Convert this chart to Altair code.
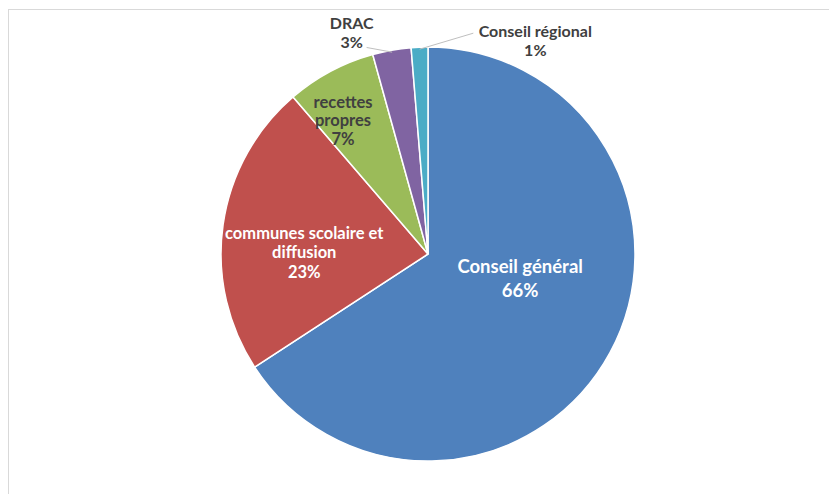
import altair as alt
import pandas as pd

categories = ["Conseil général", "communes scolaire et diffusion", "recettes propres", "DRAC", "Conseil régional"]
values = [65.8, 22.9, 7.0, 3.0, 1.3]
pct_labels = ["66%", "23%", "7%", "3%", "1%"]
name_lines = ["Conseil général", "communes scolaire et\ndiffusion", "recettes\npropres", "DRAC", "Conseil régional"]
colors = ["#4F81BD", "#C0504D", "#9BBB59", "#8064A2", "#4BACC6"]

df = pd.DataFrame({
    "cat": categories,
    "value": values,
    "idx": list(range(len(categories))),
    "label": [f"{a}\n{b}" for a, b in zip(name_lines, pct_labels)],
})

W, H = 821, 486
CX, CY, R = 420, 246, 207
DARK = "#404040"

# label layout: category -> (radius, dx, dy, color, size, lineHeight)
layout = {
    "Conseil général": (90, 13, -18, "white", 18.5, 24),
    "communes scolaire et diffusion": (125, 0, 17, "white", 16.5, 19.5),
    "recettes propres": (155, -12, 4, DARK, 16.5, 18.5),
    "DRAC": (225, -37, 1, DARK, 16, 19),
    "Conseil régional": (213, 116, 0, DARK, 16, 19),
}
# leader lines: category -> (start radius, end offset x, end offset y from label centre)
leaders = {
    "DRAC": (205, 15, 14),
    "Conseil régional": (205, -62, -8),
}

base = (
    alt.Chart(df)
    .transform_window(cum="sum(value)", sort=[alt.SortField("idx")])
    .transform_joinaggregate(total="sum(value)")
    .transform_calculate(mid="(datum.cum - datum.value / 2) / datum.total * 2 * PI")
)

arcs = alt.Chart(df).mark_arc(outerRadius=R, stroke="white", strokeWidth=1.5).encode(
    theta=alt.Theta("value:Q", stack=True),
    order=alt.Order("idx:Q"),
    color=alt.Color("cat:N", scale=alt.Scale(domain=categories, range=colors), legend=None),
    x=alt.value(CX),
    y=alt.value(CY),
)

layers = [arcs]

for cat, (sr, ox, oy) in leaders.items():
    lr, dx, dy, _, _, _ = layout[cat]
    rule = (
        base.transform_filter(alt.datum.cat == cat)
        .transform_calculate(
            x1=f"{CX} + {sr} * sin(datum.mid)",
            y1=f"{CY} - {sr} * cos(datum.mid)",
            x2=f"{CX} + {lr} * sin(datum.mid) + {dx} + {ox}",
            y2=f"{CY} - {lr} * cos(datum.mid) + {dy} + {oy}",
        )
        .mark_rule(color="#BFBFBF", strokeWidth=1)
        .encode(
            x=alt.X("x1:Q", scale=None),
            y=alt.Y("y1:Q", scale=None),
            x2="x2:Q",
            y2="y2:Q",
        )
    )
    layers.append(rule)

for i, (cat, (lr, dx, dy, col, size, lh)) in enumerate(layout.items()):
    nlines = df["label"][i].count("\n") + 1
    dy_eff = dy - (nlines - 1) * lh / 2  # centre the multi-line block
    txt = (
        base.transform_filter(alt.datum.cat == cat)
        .mark_text(
            radius=lr, dx=dx, dy=dy_eff, color=col, fontSize=size, font="Lato",
            fontWeight="bold", lineBreak="\n", lineHeight=lh,
            align="center", baseline="middle",
        )
        .encode(
            theta=alt.Theta("mid:Q", scale=None),
            text="label:N",
            x=alt.value(CX),
            y=alt.value(CY),
        )
    )
    layers.append(txt)

frame_df = pd.DataFrame({"a": [0]})
left_line = alt.Chart(frame_df).mark_rule(color="#D9D9D9", strokeWidth=1).encode(
    x=alt.value(0.5), y=alt.value(1), y2=alt.value(H)
)
top_line = alt.Chart(frame_df).mark_rule(color="#D9D9D9", strokeWidth=1).encode(
    y=alt.value(1.5), x=alt.value(0), x2=alt.value(W)
)
layers = [left_line, top_line] + layers

chart = (
    alt.layer(*layers)
    .properties(width=W, height=H, padding=0, autosize="none", background="white")
    .configure_view(strokeOpacity=0)
)

chart.save("out.html", embed_options={"renderer": "svg", "actions": False})
